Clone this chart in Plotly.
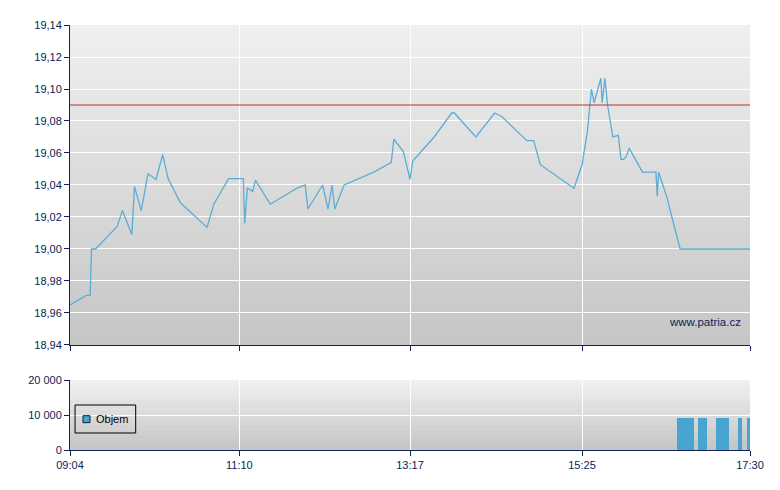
import plotly.graph_objects as go

# ---- data ----
price_times = ["09:04", "09:16", "09:19", "09:20", "09:23", "09:39", "09:43", "09:50", "09:52", "09:57",
               "10:02", "10:08", "10:13", "10:17", "10:26", "10:46", "10:51", "11:02", "11:13", "11:14",
               "11:16", "11:20", "11:22", "11:33", "11:53", "11:59", "12:01", "12:12", "12:16", "12:19",
               "12:21", "12:28", "12:50", "13:03", "13:05", "13:12", "13:17", "13:19", "13:35", "13:48",
               "13:50", "14:06", "14:20", "14:25", "14:44", "14:49", "14:54", "15:19", "15:25", "15:29",
               "15:32", "15:34", "15:39", "15:40", "15:42", "15:44", "15:48", "15:52", "15:54", "15:56",
               "15:58", "16:00", "16:10", "16:20", "16:21", "16:22", "16:28", "16:38", "17:30"]
price_values = [18.965, 18.971, 18.971, 19.000, 19.000, 19.014, 19.024, 19.009, 19.039, 19.024,
                19.047, 19.0435, 19.059, 19.044, 19.029, 19.0135, 19.028, 19.044, 19.044, 19.016,
                19.038, 19.036, 19.043, 19.028, 19.038, 19.040, 19.025, 19.040, 19.025, 19.040,
                19.025, 19.040, 19.048, 19.054, 19.0686, 19.061, 19.0435, 19.055, 19.070, 19.085,
                19.085, 19.070, 19.085, 19.083, 19.0677, 19.0677, 19.0527, 19.038, 19.0525, 19.0733,
                19.100, 19.0914, 19.1067, 19.0914, 19.1067, 19.090, 19.070, 19.071, 19.056, 19.056,
                19.058, 19.063, 19.048, 19.048, 19.033, 19.048, 19.0327, 19.000, 19.000]
reference_price = 19.09

volume_start = ["16:36", "16:51", "17:05", "17:21", "17:28"]
volume_end = ["16:48", "16:58", "17:14", "17:24", "17:31"]
volume_values = [9200, 9200, 9200, 9200, 9200]
volume_name = "Objem"

x_tick_labels = ["09:04", "11:10", "13:17", "15:25", "17:30"]
price_ticks = [18.94, 18.96, 18.98, 19.00, 19.02, 19.04, 19.06, 19.08, 19.10, 19.12, 19.14]
volume_ticks = [0, 10000, 20000]
watermark = "www.patria.cz"


def to_min(t):
    h, m = t.split(":")
    return int(h) * 60 + int(m)


px_ = [to_min(t) for t in price_times]
vs = [to_min(t) for t in volume_start]
ve = [to_min(t) for t in volume_end]
v_center = [(a + b) / 2 for a, b in zip(vs, ve)]
v_width = [b - a for a, b in zip(vs, ve)]
tick_min = [to_min(t) for t in x_tick_labels]

NAVY = "#0c2356"
BAR = "#47a5cf"
FAM = "Liberation Sans, Arial, sans-serif"
FONT = dict(family=FAM, size=11, color=NAVY)

fig = go.Figure()
fig.add_trace(go.Scatter(x=px_, y=price_values, mode="lines",
                         line=dict(color="#5aadd3", width=1.3),
                         xaxis="x", yaxis="y", showlegend=False))
fig.add_trace(go.Bar(x=v_center, y=volume_values, width=v_width, name=volume_name,
                     marker=dict(color=BAR, line=dict(width=0)),
                     xaxis="x2", yaxis="y2", showlegend=False))

# gradient backgrounds
shapes = []
def grad(xref, yref, top, bot, n):
    for i in range(n):
        f = i / (n - 1)
        c = int(round(top + (bot - top) * f))
        y1 = 1 - i / n
        y0 = max(0, 1 - (i + 1.6) / n)
        shapes.append(dict(type="rect", xref=xref, yref=yref, x0=0, x1=1,
                           y0=y0, y1=y1, layer="below",
                           fillcolor=f"rgb({c},{c},{c})", line=dict(width=0)))
grad("x domain", "y domain", 239, 198, 40)
grad("x2 domain", "y2 domain", 239, 198, 14)

shapes.append(dict(type="line", xref="x domain", yref="y", x0=0, x1=1,
                   y0=reference_price, y1=reference_price,
                   line=dict(color="#b8302a", width=1), layer="above"))

# legend box (volume panel)
shapes.append(dict(type="rect", xref="x2 domain", yref="y2 domain",
                   x0=0.0074, x1=0.0966, y0=0.243, y1=0.643,
                   line=dict(color="black", width=1), fillcolor="rgba(0,0,0,0)", layer="above"))
shapes.append(dict(type="rect", xref="x2 domain", yref="y2 domain",
                   x0=0.0191, x1=0.0294, y0=0.39, y1=0.49,
                   line=dict(color="#10202a", width=1), fillcolor=BAR, layer="above"))

axis_common = dict(showline=True, linecolor=NAVY, linewidth=1, ticks="outside",
                   tickcolor=NAVY, ticklen=5, gridcolor="white", gridwidth=1,
                   zeroline=False, tickfont=FONT)

fig.update_layout(
    width=772, height=482,
    margin=dict(l=62, r=30, t=17, b=40),
    paper_bgcolor="white", plot_bgcolor="rgba(0,0,0,0)",
    separators=", ",
    font=FONT,
    shapes=shapes,
    showlegend=False,
    xaxis=dict(domain=[0, 1], anchor="y", range=[tick_min[0], tick_min[-1]],
               tickvals=tick_min, ticktext=x_tick_labels, showticklabels=False,
               **axis_common),
    yaxis=dict(domain=[0.2471, 1], anchor="x", range=[18.94, 19.14],
               tickvals=price_ticks, tickformat=".2f", **axis_common),
    xaxis2=dict(domain=[0, 1], anchor="y2", matches="x", range=[tick_min[0], tick_min[-1]],
                tickvals=tick_min, ticktext=x_tick_labels, **axis_common),
    yaxis2=dict(domain=[0, 0.1647], anchor="x2", range=[0, 20000],
                tickvals=volume_ticks, tickformat=",d", **axis_common),
    bargap=0,
    annotations=[
        dict(text=watermark, xref="x domain", yref="y domain",
             x=0.99, y=0.072, xanchor="right", yanchor="middle",
             showarrow=False, font=dict(family=FAM, size=11.5, color=NAVY)),
        dict(text=volume_name, xref="x2 domain", yref="y2 domain",
             x=0.035, y=0.44, xanchor="left", yanchor="middle",
             showarrow=False, font=dict(family=FAM, size=11, color="black")),
    ],
)

fig.write_html("out.html")
